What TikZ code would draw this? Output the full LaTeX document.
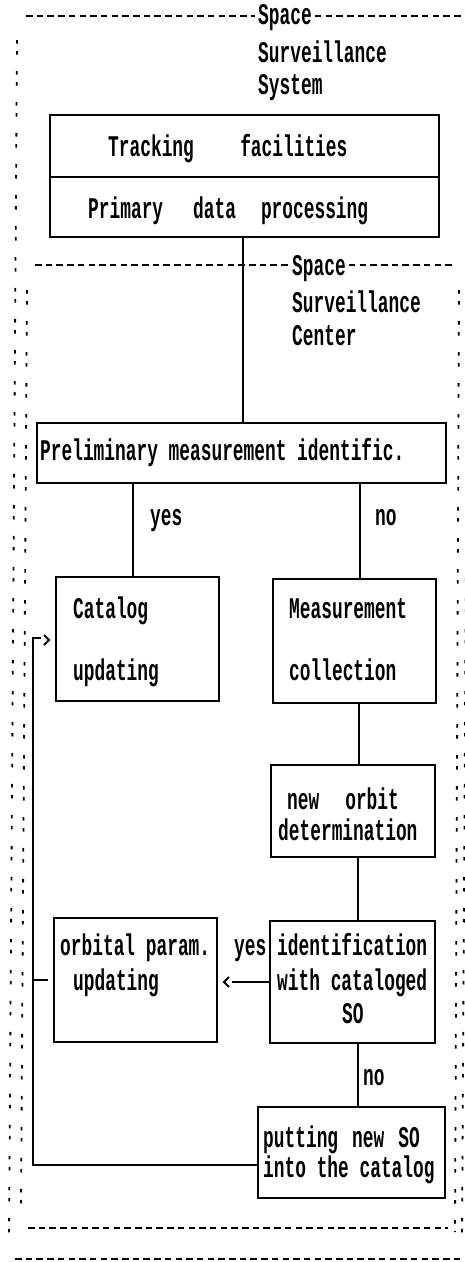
\documentclass[tikz,border=0pt]{standalone}
\usepackage{fontspec}
% narrow typewriter face, close to a dot-matrix printout
\newfontfamily\dotfont[FakeStretch=0.595]{Liberation Mono}
\begin{document}
\begin{tikzpicture}[x=1pt,y=-1pt,
  box/.style={draw, line width=2.1pt, inner sep=0pt},
  txt/.style={font=\dotfont\bfseries\fontsize{30}{32}\selectfont, inner sep=0pt, anchor=base west},
  conn/.style={line width=2.1pt},
  hdash/.style={line width=2pt, dash pattern=on 6.5pt off 4.2pt},
  vdash/.style={line width=1.8pt, dash pattern=on 3.5pt off 7.5pt on 3.5pt off 16.5pt},
  chev/.style={line width=1.8pt, line join=miter}]
\useasboundingbox (0,0) rectangle (465,1262);
\clip (0,0) rectangle (465,1262);

% ---------- Space Surveillance System frame ----------
\node[txt] (sysSpace) at (258,24) {Space};
\node[txt] (sysSurv) at (258,62) {Surveillance};
\node[txt] (sysSys) at (258,94) {System};
\coordinate (sysL) at (26,16);
\coordinate (sysR) at (470,16);
\draw[hdash] (sysL) -- ([xshift=-3pt]sysL -| sysSpace.west);
\draw[hdash] ([xshift=3pt]sysSpace.east |- sysR) -- (sysR);
\draw[vdash] (17,40) -- (9,1240);
\draw[vdash] (469,40) -- (462,1240);
\draw[hdash] (15,1259) -- (460,1259);

% ---------- Space Surveillance Center frame ----------
\node[txt] (cenSpace) at (292,275) {Space};
\node[txt] (cenSurv) at (292,312) {Surveillance};
\node[txt] (cenCen) at (292,345) {Center};
\coordinate (cenL) at (35,265);
\coordinate (cenR) at (455,265);
\draw[hdash] (cenL) -- ([xshift=-3pt]cenL -| cenSpace.west);
\draw[hdash] ([xshift=3pt]cenSpace.east |- cenR) -- (cenR);
\draw[vdash] (27,290) -- (21,1205);
\draw[vdash] (459,290) -- (455,1232);
\draw[hdash] (28,1228) -- (448,1228);

% ---------- boxes ----------
\node[box, minimum width=389pt, minimum height=62pt] (trk) at (244.5,146) {};
\node[box, minimum width=389pt, minimum height=60pt] (pdp) at (244.5,207) {};
\node[box, minimum width=409pt, minimum height=60pt] (pre) at (241.5,453) {};
\node[box, minimum width=163pt, minimum height=124pt] (cat) at (137.5,639) {};
\node[box, minimum width=163pt, minimum height=124pt] (meas) at (354.5,641) {};
\node[box, minimum width=164pt, minimum height=92pt] (orbit) at (353,811) {};
\node[box, minimum width=165pt, minimum height=122pt] (ident) at (352.5,982) {};
\node[box, minimum width=163pt, minimum height=124pt] (orb) at (135.5,980) {};
\node[box, minimum width=187pt, minimum height=91pt] (put) at (351.5,1152.5) {};

% ---------- box texts ----------
\node[txt] (trkT) at (108,156) {Tracking\hspace{46.4pt}facilities};
\node[txt] (pdpT) at (88,218) {Primary\hspace{30pt}data\hspace{25pt}processing};
\node[txt] (preT) at (40,460) {Preliminary measurement identific.};
\node[txt] (catT1) at (73,618) {Catalog};
\node[txt] (catT2) at (73,680) {updating};
\node[txt] (measT1) at (289,618) {Measurement};
\node[txt] (measT2) at (289,680) {collection};
\node[txt] (orbitT1) at (287,809) {new\hspace{26pt}orbit};
\node[txt] (orbitT2) at (278,840) {determination};
\node[txt] (identT1) at (277,955) {identification};
\node[txt] (identT2) at (277,990) {with cataloged};
\node[txt] (identT3) at (342,1023) {SO};
\node[txt] (orbT1) at (60,955) {orbital param.};
\node[txt] (orbT2) at (73,990) {updating};
\node[txt] (putT1) at (263,1147) {putting\hspace{14pt}new\hspace{14pt}SO};
\node[txt] (putT2) at (263,1177) {into the catalog};

% ---------- branch labels ----------
\node[txt] (yes1) at (150,525) {yes};
\node[txt] (no1) at (375,525) {no};
\node[txt] (yes2) at (234,955) {yes};
\node[txt] (no2) at (363,1085) {no};

% ---------- connectors ----------
\draw[conn] ([xshift=-1.5pt]pdp.south) -- ([xshift=-1.5pt]pdp.south |- pre.north);
\draw[conn] ([xshift=-4.5pt]cat.north) -- ([xshift=-4.5pt]cat.north |- pre.south);
\draw[conn] ([xshift=5.5pt]meas.north) -- ([xshift=5.5pt]meas.north |- pre.south);
\draw[conn] ([xshift=4.5pt]meas.south) -- ([xshift=4.5pt]meas.south |- orbit.north);
\draw[conn] ([xshift=5pt]orbit.south) -- ([xshift=5pt]orbit.south |- ident.north);
\draw[conn] ([xshift=5.5pt]ident.south) -- ([xshift=5.5pt]ident.south |- put.north);

% yes: identified -> orbital parameter updating
\coordinate (yesTip) at (224,982);
\draw[conn] (ident.west) -- ([xshift=8pt]yesTip);
\draw[chev] ([xshift=5pt,yshift=5pt]yesTip) -- (yesTip) -- ([xshift=5pt,yshift=-5pt]yesTip);

% feedback into catalog updating
\coordinate (fbB) at (33,1165);
\coordinate (fbT) at (33,638);
\coordinate (fbE) at (41,638);
\coordinate (fbTip) at (49,640);
\draw[conn] (fbB -| put.west) -- (fbB) -- (fbT) -- (fbE);
\draw[conn, shorten <=5pt] (orb.west) -- (orb.west -| fbB);
\draw[chev] ([xshift=-5pt,yshift=5pt]fbTip) -- (fbTip) -- ([xshift=-5pt,yshift=-5pt]fbTip);
\end{tikzpicture}
\end{document}
